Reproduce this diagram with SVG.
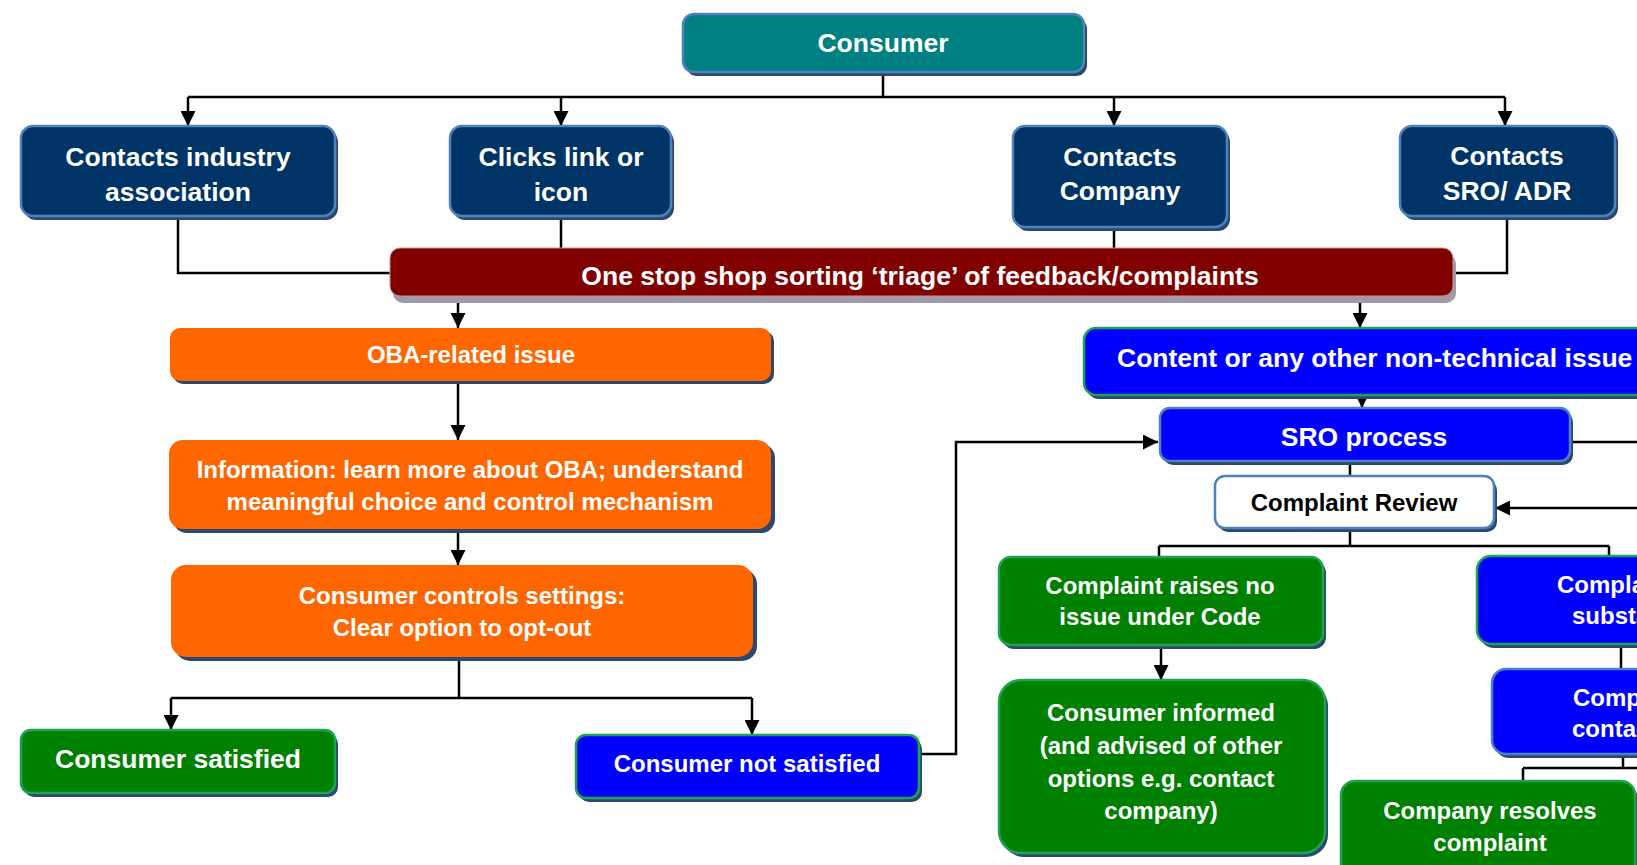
<svg xmlns="http://www.w3.org/2000/svg" width="1637" height="865" viewBox="0 0 1637 865">
<defs>
<marker id="ah" markerUnits="userSpaceOnUse" markerWidth="15" markerHeight="15" refX="15" refY="7.5" orient="auto">
<path d="M0,0 L15,7.5 L0,15 z" fill="#000"/>
</marker>
<style>
text{font-family:"Liberation Sans",Arial,sans-serif;font-weight:bold;fill:#fff;text-anchor:middle}
.t26{font-size:26.5px}
.t24{font-size:24px}
.dark{fill:#000}
.st{text-anchor:start}
.sh{fill:#2c4770}
.shg{fill:#a09aa8}
.teal{fill:#008080;stroke:#4f81bd;stroke-width:2.5}
.navy{fill:#003366;stroke:#4f81bd;stroke-width:2.5}
.maroon{fill:#800000;stroke:#c89090;stroke-width:1}
.orange{fill:#ff6600}
.green{fill:#008000;stroke:#1aa555;stroke-width:2.5}
.blueg{fill:#0000ff;stroke:#1aa555;stroke-width:2.5}
.blueb{fill:#0000ff;stroke:#4f81bd;stroke-width:2.5}
.white{fill:#fff;stroke:#4f81bd;stroke-width:2.5}
.ln{fill:none;stroke:#000;stroke-width:2.5}
.ar{fill:none;stroke:#000;stroke-width:2.5;marker-end:url(#ah)}
</style>
</defs>

<g id="connectors">
<path class="ln" d="M883,74 V97 M188,97 H1505"/>
<path class="ar" d="M188,97 V126"/>
<path class="ar" d="M561,97 V126"/>
<path class="ar" d="M1114,97 V126"/>
<path class="ar" d="M1505,97 V126"/>
<path class="ln" d="M178,216 V273 H390"/>
<path class="ln" d="M561,216 V248"/>
<path class="ln" d="M1114,227 V248"/>
<path class="ln" d="M1507,216 V273 H1453"/>
<path class="ar" d="M458,298 V328"/>
<path class="ar" d="M1360,298 V328"/>
<path class="ar" d="M458,384 V440"/>
<path class="ar" d="M458,531 V565"/>
<path class="ln" d="M459,659 V698 M171,698 H752"/>
<path class="ar" d="M171,698 V730"/>
<path class="ar" d="M752,698 V735"/>
<path class="ar" d="M919,754 H956 V442 H1158"/>
<path class="ar" d="M1362,396 V408"/>
<path class="ln" d="M1570,442 H1637"/>
<path class="ar" d="M1637,508 H1495"/>
<path class="ln" d="M1350,463 V476"/>
<path class="ln" d="M1350,530 V546 M1159,546 H1609 M1159,546 V557 M1609,546 V556"/>
<path class="ar" d="M1161,647 V680"/>
<path class="ln" d="M1621,646 V669"/>
<path class="ln" d="M1623,756 V768 M1523,768 H1637 M1523,768 V781"/>
</g>

<g id="consumer">
<rect class="sh" x="686" y="18" width="401" height="58" rx="11"/>
<rect class="teal" x="683" y="14" width="401" height="58" rx="11"/>
<text class="t26" x="883" y="52">Consumer</text>
</g>

<g id="industry">
<rect class="sh" x="24" y="130" width="314" height="90" rx="12"/>
<rect class="navy" x="21" y="126" width="314" height="90" rx="12"/>
<text class="t26" x="178" y="166">Contacts industry</text>
<text class="t26" x="178" y="201">association</text>
</g>

<g id="clicks">
<rect class="sh" x="453" y="130" width="221" height="90" rx="12"/>
<rect class="navy" x="450" y="126" width="221" height="90" rx="12"/>
<text class="t26" x="561" y="166">Clicks link or</text>
<text class="t26" x="561" y="201">icon</text>
</g>

<g id="company">
<rect class="sh" x="1016" y="130" width="214" height="101" rx="12"/>
<rect class="navy" x="1013" y="126" width="214" height="101" rx="12"/>
<text class="t26" x="1120" y="166">Contacts</text>
<text class="t26" x="1120" y="200">Company</text>
</g>

<g id="sroadr">
<rect class="sh" x="1403" y="130" width="215" height="90" rx="12"/>
<rect class="navy" x="1400" y="126" width="215" height="90" rx="12"/>
<text class="t26" x="1507" y="165">Contacts</text>
<text class="t26" x="1507" y="200">SRO/ ADR</text>
</g>

<g id="triage">
<rect class="shg" x="393" y="254" width="1063" height="49" rx="10"/>
<rect class="maroon" x="390" y="248" width="1063" height="48" rx="10"/>
<text class="t26" x="920" y="285">One stop shop sorting ‘triage’ of feedback/complaints</text>
</g>

<g id="oba">
<rect class="sh" x="173" y="331" width="601" height="53" rx="10"/>
<rect class="orange" x="170" y="328" width="601" height="53" rx="10"/>
<text class="t24" x="471" y="363">OBA-related issue</text>
</g>

<g id="information">
<rect class="sh" x="173" y="444" width="602" height="89" rx="14"/>
<rect class="orange" x="169" y="440" width="602" height="89" rx="14"/>
<text class="t24" x="470" y="478">Information: learn more about OBA; understand</text>
<text class="t24" x="470" y="510">meaningful choice and control mechanism</text>
</g>

<g id="controls">
<rect class="sh" x="175" y="569" width="582" height="92" rx="15"/>
<rect class="orange" x="171" y="565" width="582" height="92" rx="15"/>
<text class="t24" x="462" y="604">Consumer controls settings:</text>
<text class="t24" x="462" y="636">Clear option to opt-out</text>
</g>

<g id="satisfied">
<rect class="sh" x="24" y="734" width="314" height="63" rx="10"/>
<rect class="green" x="21" y="730" width="314" height="63" rx="10"/>
<text class="t26" x="178" y="768">Consumer satisfied</text>
</g>

<g id="notsatisfied">
<rect class="sh" x="579" y="739" width="343" height="63" rx="10"/>
<rect class="blueg" x="576" y="735" width="343" height="63" rx="10"/>
<text class="t24" x="747" y="772">Consumer not satisfied</text>
</g>

<g id="content">
<rect class="sh" x="1087" y="332" width="600" height="67" rx="12"/>
<rect class="blueg" x="1084" y="328" width="600" height="67" rx="12"/>
<text class="t26 st" x="1117" y="367">Content or any other non-technical issue</text>
</g>

<g id="sroprocess">
<rect class="sh" x="1163" y="412" width="410" height="53" rx="10"/>
<rect class="blueb" x="1160" y="408" width="410" height="53" rx="10"/>
<text class="t26" x="1364" y="446">SRO process</text>
</g>

<g id="review">
<rect class="sh" x="1218" y="480" width="279" height="52" rx="10"/>
<rect class="white" x="1215" y="476" width="279" height="52" rx="10"/>
<text class="t24 dark" x="1354" y="511">Complaint Review</text>
</g>

<g id="noissue">
<rect class="sh" x="1002" y="561" width="324" height="88" rx="12"/>
<rect class="green" x="999" y="557" width="324" height="88" rx="12"/>
<text class="t24" x="1160" y="594">Complaint raises no</text>
<text class="t24" x="1160" y="625">issue under Code</text>
</g>

<g id="informed">
<rect class="sh" x="1002" y="684" width="326" height="173" rx="22"/>
<rect class="green" x="999" y="680" width="326" height="173" rx="22"/>
<text class="t24" x="1161" y="721">Consumer informed</text>
<text class="t24" x="1161" y="754">(and advised of other</text>
<text class="t24" x="1161" y="787">options e.g. contact</text>
<text class="t24" x="1161" y="819">company)</text>
</g>

<g id="substantiated">
<rect class="sh" x="1480" y="560" width="400" height="88" rx="14"/>
<rect class="blueg" x="1477" y="556" width="400" height="88" rx="14"/>
<text class="t24 st" x="1557" y="593">Complaint found</text>
<text class="t24 st" x="1572" y="624">substantiated</text>
</g>

<g id="contacted">
<rect class="sh" x="1495" y="673" width="300" height="85" rx="14"/>
<rect class="blueb" x="1492" y="669" width="300" height="85" rx="14"/>
<text class="t24 st" x="1573" y="706">Company</text>
<text class="t24 st" x="1572" y="737">contacted</text>
</g>

<g id="resolves">
<rect class="sh" x="1344" y="785" width="294" height="100" rx="14"/>
<rect class="green" x="1341" y="781" width="294" height="100" rx="14"/>
<text class="t24" x="1490" y="819">Company resolves</text>
<text class="t24" x="1490" y="851">complaint</text>
</g>
</svg>
